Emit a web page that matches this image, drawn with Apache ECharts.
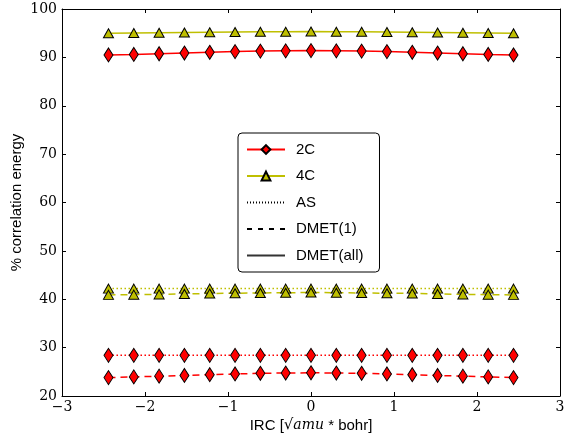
<!DOCTYPE html>
<html>
<head>
<meta charset="utf-8">
<script src="https://cdn.jsdelivr.net/npm/echarts@6/dist/echarts.min.js"></script>
<style>
  html, body { margin: 0; padding: 0; background: #fff; }
  #chart { width: 565px; height: 438px; }
</style>
</head>
<body>
<div id="chart"></div>
<script>
// IRC positions
const irc = [-2.44, -2.135, -1.83, -1.525, -1.22, -0.915, -0.61, -0.305, 0,
             0.305, 0.61, 0.915, 1.22, 1.525, 1.83, 2.135, 2.44];

// 2C active space
const c2All = [90.5, 90.6, 90.75, 90.9, 91.05, 91.2, 91.3, 91.35, 91.4, 91.35, 91.3, 91.2, 91.05, 90.9, 90.75, 90.6, 90.5];
const c2As = [28.4, 28.4, 28.4, 28.4, 28.4, 28.4, 28.4, 28.4, 28.4, 28.4, 28.4, 28.4, 28.4, 28.4, 28.4, 28.4, 28.4];
const c2One = [23.8, 23.95, 24.1, 24.25, 24.4, 24.55, 24.7, 24.75, 24.8, 24.75, 24.7, 24.55, 24.4, 24.25, 24.1, 23.95, 23.8];

// 4C active space
const c4All = [95.0, 95.05, 95.1, 95.15, 95.2, 95.25, 95.3, 95.3, 95.35, 95.3, 95.3, 95.25, 95.2, 95.15, 95.1, 95.05, 95.0];
const c4As = [42.2, 42.2, 42.2, 42.2, 42.2, 42.2, 42.2, 42.2, 42.2, 42.2, 42.2, 42.2, 42.2, 42.2, 42.2, 42.2, 42.2];
const c4One = [40.9, 40.95, 41.0, 41.1, 41.2, 41.25, 41.3, 41.35, 41.4, 41.35, 41.3, 41.25, 41.2, 41.1, 41.0, 40.95, 40.9];

const legendNames = ['2C', '4C', 'AS', 'DMET(1)', 'DMET(all)'];

const RED = '#ff0000';
const OLIVE = '#bfbf00';
const DOT = [1.5, 2.5];
const DASH = [7, 5];

const pairs = ys => irc.map((x, i) => [x, ys[i]]);
const minus = v => String(v).replace('-', '\u2212');

const mk = (name, ys, color, lineType, symbol, size) => ({
    name: name,
    type: 'line',
    data: pairs(ys),
    symbol: symbol,
    symbolSize: size,
    showAllSymbol: true,
    itemStyle: {color: color, borderColor: '#000', borderWidth: 1},
    lineStyle: {color: color, width: 1.5, type: lineType},
    z: 3
});

const dummy = (name, lineType, width, color) => ({
    name: name,
    type: 'line',
    data: [],
    symbol: 'none',
    itemStyle: {color: 'transparent', borderWidth: 0},
    lineStyle: {color: color, width: width, type: lineType}
});

const serif = 'DejaVu Serif';
const sans = 'Liberation Sans';

const frameAxis = {
    axisLine: {onZero: false, lineStyle: {color: '#000', width: 1}},
    axisTick: {inside: true, length: 4, lineStyle: {color: '#000'}},
    splitLine: {show: false}
};

let option = {
    animation: false,
    backgroundColor: '#fff',
    grid: {left: 62, right: 5, top: 9, bottom: 42, outerBoundsMode: 'none', containLabel: false},
    legend: {
        data: legendNames,
        orient: 'vertical',
        left: 238,
        top: 133,
        padding: [9, 16, 9, 8],
        itemWidth: 38,
        itemHeight: 11,
        itemGap: 11.5,
        borderColor: '#000',
        borderWidth: 1,
        borderRadius: 4,
        backgroundColor: '#fff',
        textStyle: {fontFamily: sans, fontSize: 15, color: '#000', lineHeight: 14, padding: [0, 0, 0, 6]}
    },
    xAxis: [{
        ...frameAxis,
        type: 'value',
        min: -3, max: 3, interval: 1,
        name: '{a|IRC [}{s|\u221A}{i|amu}{a| * bohr]}',
        nameLocation: 'middle',
        nameGap: 22,
        nameMoveOverlap: false,
        nameTextStyle: {
            rich: {
                a: {fontFamily: sans, fontSize: 15, color: '#000'},
                s: {fontFamily: serif, fontSize: 15, color: '#000'},
                i: {fontFamily: serif, fontStyle: 'italic', fontSize: 14, color: '#000'}
            }
        },
        axisLabel: {fontFamily: serif, fontSize: 14, color: '#000', margin: 4, formatter: minus}
    }, {
        ...frameAxis,
        type: 'value',
        position: 'top',
        min: -3, max: 3, interval: 1,
        axisLabel: {show: false}
    }],
    yAxis: [{
        ...frameAxis,
        type: 'value',
        min: 20, max: 100, interval: 10,
        name: '% correlation energy',
        nameLocation: 'middle',
        nameGap: 38,
        nameMoveOverlap: false,
        nameTextStyle: {fontFamily: sans, fontSize: 15, color: '#000'},
        axisLabel: {fontFamily: serif, fontSize: 14, color: '#000', margin: 5}
    }, {
        ...frameAxis,
        type: 'value',
        position: 'right',
        min: 20, max: 100, interval: 10,
        axisLabel: {show: false}
    }],
    series: [
        mk('2C', c2All, RED, 'solid', 'diamond', [9, 14]),
        mk('4C', c4All, OLIVE, 'solid', 'triangle', [10, 9]),
        mk('2C AS', c2As, RED, DOT, 'diamond', [9, 14]),
        mk('4C AS', c4As, OLIVE, DOT, 'triangle', [10, 9]),
        mk('2C DMET(1)', c2One, RED, DASH, 'diamond', [9, 14]),
        mk('4C DMET(1)', c4One, OLIVE, DASH, 'triangle', [10, 9]),
        dummy('AS', [1, 2], 1, '#000'),
        dummy('DMET(1)', [5, 6], 1.2, '#000'),
        dummy('DMET(all)', 'solid', 1.8, '#333')
    ]
};

let myChart = echarts.init(document.getElementById('chart'));
myChart.setOption(option);
</script>
</body>
</html>
